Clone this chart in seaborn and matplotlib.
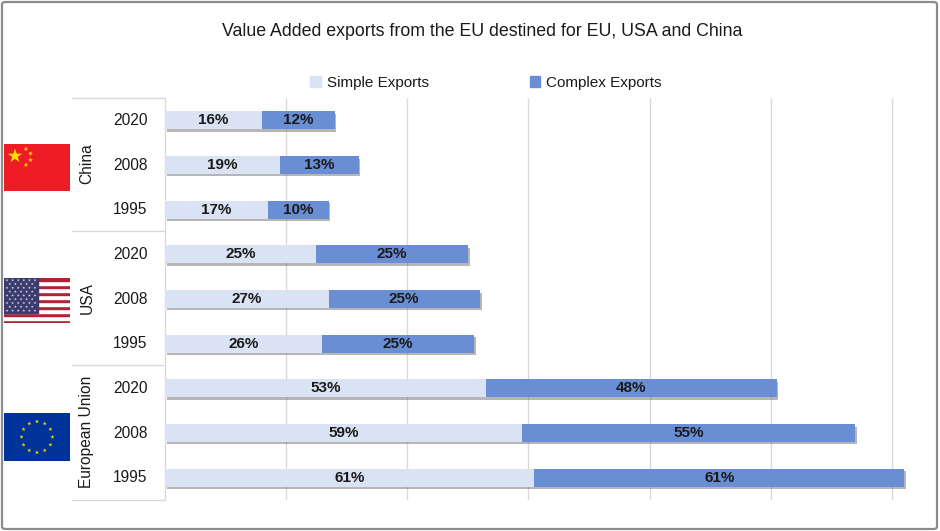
import matplotlib
matplotlib.use("Agg")
import matplotlib.pyplot as plt
import matplotlib.patheffects as pe
from matplotlib.patches import Rectangle, FancyBboxPatch, Polygon
from matplotlib.lines import Line2D
import numpy as np
import pandas as pd
import seaborn as sns

# ---- data ----
regions = ["China", "China", "China", "USA", "USA", "USA",
           "European Union", "European Union", "European Union"]
years = ["2020", "2008", "1995", "2020", "2008", "1995", "2020", "2008", "1995"]
simple = [16, 19, 17, 25, 27, 26, 53, 59, 61]
complex_ = [12, 13, 10, 25, 25, 25, 48, 55, 61]
group_names = ["China", "USA", "European Union"]
title = "Value Added exports from the EU destined for EU, USA and China"
series_names = ["Simple Exports", "Complex Exports"]

C_SIMPLE = "#DAE3F3"
C_COMPLEX = "#6A8ED4"

df = pd.DataFrame({
    "row": [f"{r} {y}" for r, y in zip(regions, years)],
    "region": regions, "year": years,
    "simple": simple, "complex": complex_,
})
df["total"] = df["simple"] + df["complex"]

sns.set_theme(style="white")
plt.rcParams["font.family"] = ["Liberation Sans", "DejaVu Sans"]

W, H = 940, 531
fig = plt.figure(figsize=(W / 100, H / 100), dpi=100)

def fx(px):
    return px / W

def fy(py):
    return 1 - py / H

# frame
fig.patches.append(FancyBboxPatch((fx(2), fy(529)), fx(935), 527 / H,
                                  boxstyle="round,pad=0,rounding_size=0.004",
                                  transform=fig.transFigure, fill=False,
                                  edgecolor="#8C8C8C", linewidth=1.6))

ax = fig.add_axes([fx(165), fy(500), fx(745), 402 / H])

shadow = [pe.SimplePatchShadow(offset=(1.2, -1.8), shadow_rgbFace="#6E6E6E", alpha=0.5),
          pe.Normal()]

sns.barplot(data=df, x="total", y="row", orient="h", color=C_COMPLEX,
            width=0.4, ax=ax, saturation=1, label=series_names[1])
n_total = len(ax.patches)
sns.barplot(data=df, x="simple", y="row", orient="h", color=C_SIMPLE,
            width=0.4, ax=ax, saturation=1, label=series_names[0])
for i, p in enumerate(ax.patches):
    p.set_linewidth(0)
    if i < n_total:
        p.set_path_effects(shadow)
    p.set_zorder(3 if i < n_total else 4)

# labels
for i, p in enumerate(ax.patches):
    x0, w = p.get_x(), p.get_width()
    yc = p.get_y() + p.get_height() / 2
    if i < n_total:
        s = df["simple"].iloc[i]
        c = df["complex"].iloc[i]
        ax.text(s + c / 2, yc, f"{c}%", ha="center", va="center",
                fontsize=11, fontweight="bold", color="#1A1A1A", zorder=6)
    else:
        ax.text(x0 + w / 2, yc, f"{int(w)}%", ha="center", va="center",
                fontsize=11, fontweight="bold", color="#1A1A1A", zorder=6)

ax.set_xlim(0, 123)
ax.set_ylim(8.5, -0.5)
ax.set_xticks([20, 40, 60, 80, 100, 120])
ax.xaxis.grid(True, color="#D9D9D9", linewidth=1)
ax.set_axisbelow(True)
ax.tick_params(axis="x", length=0, labelbottom=False)
ax.tick_params(axis="y", length=0, labelleft=False)
ax.set_xlabel("")
ax.set_ylabel("")
for s in ["top", "right", "bottom"]:
    ax.spines[s].set_visible(False)
ax.spines["left"].set_color("#D9D9D9")
ax.spines["left"].set_linewidth(1)
if ax.get_legend():
    ax.get_legend().remove()

# year labels
for i, y in enumerate(years):
    ax.text(-35 / 745 * 123, i, y, ha="center", va="center",
            fontsize=11.2, color="#1A1A1A")

# table lines
for py in [98, 231, 365, 500]:
    fig.add_artist(Line2D([fx(72), fx(164)], [fy(py), fy(py)],
                          color="#D9D9D9", linewidth=1, transform=fig.transFigure))

group_y = [164, 298, 432]
for name, py in zip(group_names, group_y):
    fig.text(fx(87), fy(py), name, rotation=90, ha="center", va="center",
             fontsize=11.2, color="#1A1A1A")

# title
fig.text(fx(482), fy(32), title, ha="center", va="center", fontsize=12.8, color="#1A1A1A")

# legend
handles = [Rectangle((0, 0), 1, 1, color=C_SIMPLE), Rectangle((0, 0), 1, 1, color=C_COMPLEX)]
fig.legend(handles, series_names, loc="center", bbox_to_anchor=(fx(486), fy(83)),
           ncol=2, frameon=False, fontsize=11, handlelength=0.7, handleheight=0.7,
           handletextpad=0.4, columnspacing=6.6, labelcolor="#1A1A1A")

# flags (axes in pixel units)
def star(axf, x, y, r, color, rot=0.0):
    ang = np.pi / 2 + rot + np.arange(10) * np.pi / 5
    rad = np.where(np.arange(10) % 2 == 0, r, r * 0.382)
    pts = np.column_stack([x + rad * np.cos(ang), y + rad * np.sin(ang)])
    axf.add_patch(Polygon(pts, closed=True, facecolor=color, edgecolor="none"))

def flag_axes(left, top, w, h):
    a = fig.add_axes([fx(left), fy(top + h), fx(w), h / H])
    a.set_xlim(0, w); a.set_ylim(0, h); a.axis("off")
    return a

# China
axc = flag_axes(4, 144, 66, 47)
axc.add_patch(Rectangle((0, 0), 66, 47, color="#EE1C25"))
star(axc, 11, 35, 7.5, "#FFDE00")
for (sx, sy, rr) in [(22, 42, 0.5), (26.5, 37.5, 0.9), (26.5, 31, 0.0), (22, 26, 0.5)]:
    star(axc, sx, sy, 2.5, "#FFDE00", rot=rr)

# USA
axu = flag_axes(4, 278, 66, 45)
sh = 45 / 13
for k in range(13):
    axu.add_patch(Rectangle((0, k * sh), 66, sh, color="#B22234" if k % 2 == 0 else "white"))
axu.add_patch(Rectangle((0, 45 - 35), 34, 35, color="#3C3B6E"))
for r in range(9):
    ncol = 6 if r % 2 == 0 else 5
    for c in range(ncol):
        cx = 3 + c * 5.6 + (2.8 if r % 2 else 0)
        cy = 45 - 2.2 - r * 3.8
        star(axu, cx, cy, 1.5, "#D8DCEE")

# EU
axe = flag_axes(4, 413, 66, 48)
axe.add_patch(Rectangle((0, 0), 66, 48, color="#003399"))
for k in range(12):
    a = 2 * np.pi * k / 12
    star(axe, 33 + 15.5 * np.sin(a), 24 + 15.5 * np.cos(a), 2.2, "#FFCC00")

fig.savefig("out.png", dpi=100)
